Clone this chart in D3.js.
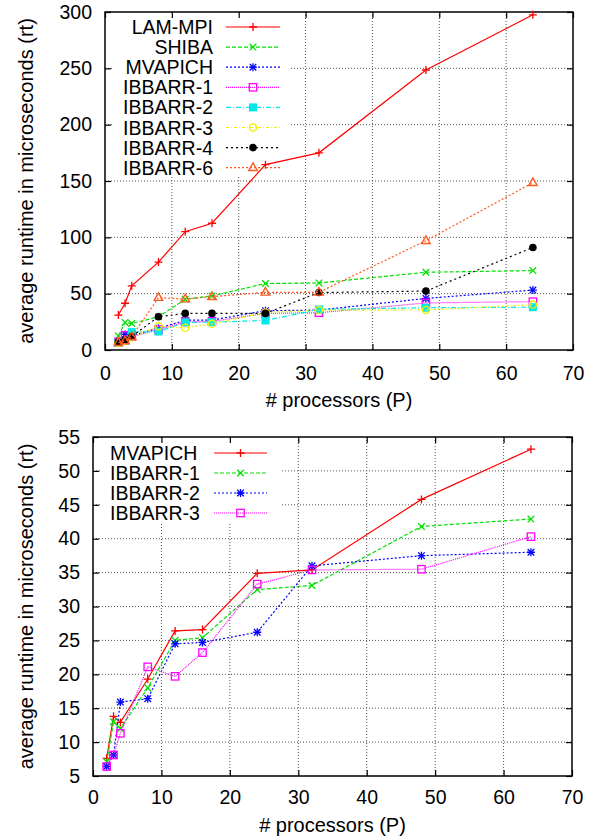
<!DOCTYPE html>
<html>
<head>
<meta charset="utf-8">
<script src="https://cdn.jsdelivr.net/npm/d3@7"></script>
<style>
  body { margin: 0; background: #fff; }
  svg { display: block; font-family: "Liberation Sans", Arial, sans-serif; }
</style>
</head>
<body>
<script>
// processor counts and runtimes (microseconds)
const procs = [2, 3, 4, 8, 12, 16, 24, 32, 48, 64];
const lamMpi  = [31, 41.5, 57, 78, 105, 112.5, 164.5, 175, 248.5, 297.5];
const shiba   = [12.5, 24.5, 23.5, 29.5, 45, 48, 59, 59.5, 69, 70.5];
const mvapich = [7.6, 13.8, 12.9, 19.3, 26.4, 26.6, 34.9, 35.4, 45.8, 53.2];
const ibbarr1 = [7.1, 13.0, 12.0, 18.0, 25.0, 25.4, 32.5, 33.1, 41.8, 42.9];
const ibbarr2 = [6.4, 8.1, 15.9, 16.4, 24.5, 24.7, 26.2, 36.0, 37.5, 38.0];
const ibbarr3 = [6.4, 8.1, 11.3, 21.1, 19.7, 23.2, 33.3, 35.4, 35.5, 40.3];
const ibbarr4 = [7, 9, 12, 29.5, 32.5, 32.5, 32.5, 51, 52.3, 91];
const ibbarr6 = [6.5, 8, 11.8, 46.5, 45.2, 47.3, 51.2, 51.2, 97, 148.5];

const xTicks = [0, 10, 20, 30, 40, 50, 60, 70];
const topYTicks = [0, 50, 100, 150, 200, 250, 300];
const bottomYTicks = [5, 10, 15, 20, 25, 30, 35, 40, 45, 50, 55];

const xTitle = '# processors (P)';
const yTitle = 'average runtime in microseconds (rt)';

const svg = d3.select('body').append('svg').attr('width', 600).attr('height', 840);

// marker shapes, gnuplot style
function marker(g, type, x, y, color) {
  const m = g.append('g').attr('transform', `translate(${x},${y})`);
  const s = 4;
  if (type === 'plus' || type === 'star') {
    m.append('path').attr('d', `M${-s},0H${s}M0,${-s}V${s}`).attr('stroke', color).attr('stroke-width', 1.3);
  }
  if (type === 'cross' || type === 'star') {
    const c = 3.3;
    m.append('path').attr('d', `M${-c},${-c}L${c},${c}M${-c},${c}L${c},${-c}`).attr('stroke', color).attr('stroke-width', 1.3);
  }
  if (type === 'box') {
    m.append('rect').attr('x', -3.7).attr('y', -3.7).attr('width', 7.4).attr('height', 7.4)
      .attr('fill', 'none').attr('stroke', color).attr('stroke-width', 1.3);
  }
  if (type === 'fbox') {
    m.append('rect').attr('x', -4).attr('y', -4).attr('width', 8).attr('height', 8).attr('fill', color);
  }
  if (type === 'circle') {
    m.append('circle').attr('r', 3.6).attr('fill', 'none').attr('stroke', color).attr('stroke-width', 1.3);
  }
  if (type === 'fcircle') {
    m.append('circle').attr('r', 3.8).attr('fill', color);
  }
  if (type === 'triangle') {
    m.append('path').attr('d', 'M0,-4.8L4.3,2.8L-4.3,2.8Z').attr('fill', 'none').attr('stroke', color).attr('stroke-width', 1.4);
  }
}

function drawChart(cfg) {
  const x = d3.scaleLinear().domain([0, 70]).range([cfg.left, cfg.right]);
  const y = d3.scaleLinear().domain(cfg.yDomain).range([cfg.bottom, cfg.top]);
  const g = svg.append('g');

  // dotted grid
  const grid = g.append('g').attr('stroke', '#555').attr('stroke-width', 1).attr('stroke-dasharray', '1,2');
  xTicks.slice(1, -1).forEach(t => {
    grid.append('line').attr('x1', x(t)).attr('x2', x(t)).attr('y1', cfg.top).attr('y2', cfg.bottom);
  });
  cfg.yTicks.slice(1, -1).forEach(t => {
    grid.append('line').attr('x1', cfg.left).attr('x2', cfg.right).attr('y1', y(t)).attr('y2', y(t));
  });

  // key background hides grid
  g.append('rect').attr('x', cfg.key.box[0]).attr('y', cfg.key.box[1])
    .attr('width', cfg.key.box[2]).attr('height', cfg.key.box[3]).attr('fill', '#fff');

  // axes, ticks inward and mirrored
  const tk = 6;
  g.append('g').attr('transform', `translate(0,${cfg.bottom})`)
    .call(d3.axisBottom(x).tickValues(xTicks).tickSize(-tk).tickPadding(tk + cfg.xPad).tickSizeOuter(0))
    .call(a => a.select('.domain').remove());
  g.append('g').attr('transform', `translate(0,${cfg.top})`)
    .call(d3.axisTop(x).tickValues(xTicks).tickSize(-tk).tickFormat('').tickSizeOuter(0))
    .call(a => a.select('.domain').remove());
  g.append('g').attr('transform', `translate(${cfg.left},0)`)
    .call(d3.axisLeft(y).tickValues(cfg.yTicks).tickSize(-tk).tickPadding(tk + 7).tickSizeOuter(0))
    .call(a => a.select('.domain').remove());
  g.append('g').attr('transform', `translate(${cfg.right},0)`)
    .call(d3.axisRight(y).tickValues(cfg.yTicks).tickSize(-tk).tickFormat('').tickSizeOuter(0))
    .call(a => a.select('.domain').remove());
  g.selectAll('.tick line').attr('stroke', '#000').attr('stroke-width', 1.2);
  g.selectAll('.tick text').attr('font-size', 19.5).attr('fill', '#000')
    .attr('font-family', '"Liberation Sans", Arial, sans-serif');

  g.append('rect').attr('x', cfg.left).attr('y', cfg.top)
    .attr('width', cfg.right - cfg.left).attr('height', cfg.bottom - cfg.top)
    .attr('fill', 'none').attr('stroke', '#000').attr('stroke-width', 1.5);

  // axis titles
  g.append('text').attr('x', (cfg.left + cfg.right) / 2).attr('y', cfg.bottom + cfg.titleOff)
    .attr('text-anchor', 'middle').attr('font-size', 20).text(xTitle);
  g.append('text').attr('transform', `translate(33,${(cfg.top + cfg.bottom) / 2}) rotate(-90)`)
    .attr('text-anchor', 'middle').attr('font-size', 20).text(yTitle);

  // series
  const line = d3.line().x((d, i) => x(procs[i])).y(d => y(d));
  cfg.series.forEach(s => {
    g.append('path').datum(s.values).attr('d', line).attr('fill', 'none')
      .attr('stroke', s.color).attr('stroke-width', 1.2).attr('stroke-dasharray', s.dash);
    s.values.forEach((v, i) => marker(g, s.mark, x(procs[i]), y(v), s.color));
  });

  // key
  const k = cfg.key;
  cfg.series.forEach((s, i) => {
    const yy = k.y0 + i * k.dy;
    g.append('text').attr('x', k.textX).attr('y', yy).attr('dy', '0.36em')
      .attr('text-anchor', k.anchor).attr('font-size', 19.5).text(s.name);
    g.append('line').attr('x1', k.lineX[0]).attr('x2', k.lineX[1]).attr('y1', yy).attr('y2', yy)
      .attr('stroke', s.color).attr('stroke-width', 1.2).attr('stroke-dasharray', s.dash);
    marker(g, s.mark, (k.lineX[0] + k.lineX[1]) / 2, yy, s.color);
  });
}

drawChart({
  left: 105, right: 573, top: 12, bottom: 350,
  yDomain: [0, 300], yTicks: topYTicks, xPad: 10, titleOff: 57,
  key: { box: [114, 15, 176, 162], textX: 213, anchor: 'end', lineX: [226, 280], y0: 27, dy: 20.1 },
  series: [
    { name: 'LAM-MPI',  values: lamMpi,  color: '#ff0000', dash: null,      mark: 'plus' },
    { name: 'SHIBA',    values: shiba,   color: '#00e000', dash: '4,2',     mark: 'cross' },
    { name: 'MVAPICH',  values: mvapich, color: '#0000ff', dash: '2,2',     mark: 'star' },
    { name: 'IBBARR-1', values: ibbarr1, color: '#ff00ff', dash: '1,1',     mark: 'box' },
    { name: 'IBBARR-2', values: ibbarr2, color: '#00e8e8', dash: '5,2,1,2', mark: 'fbox' },
    { name: 'IBBARR-3', values: ibbarr3, color: '#f0f000', dash: '3,2,1,2', mark: 'circle' },
    { name: 'IBBARR-4', values: ibbarr4, color: '#000000', dash: '2,3',     mark: 'fcircle' },
    { name: 'IBBARR-6', values: ibbarr6, color: '#ff5a1f', dash: '2,2',     mark: 'triangle' }
  ]
});

drawChart({
  left: 93, right: 572, top: 437, bottom: 776,
  yDomain: [5, 55], yTicks: bottomYTicks, xPad: 8, titleOff: 56,
  key: { box: [100, 440, 180, 83], textX: 110, anchor: 'start', lineX: [214, 267], y0: 453, dy: 20 },
  series: [
    { name: 'MVAPICH',  values: mvapich, color: '#ff0000', dash: null,  mark: 'plus' },
    { name: 'IBBARR-1', values: ibbarr1, color: '#00e000', dash: '4,2', mark: 'cross' },
    { name: 'IBBARR-2', values: ibbarr2, color: '#0000ff', dash: '2,2', mark: 'star' },
    { name: 'IBBARR-3', values: ibbarr3, color: '#ff00ff', dash: '1,1', mark: 'box' }
  ]
});
</script>
</body>
</html>
